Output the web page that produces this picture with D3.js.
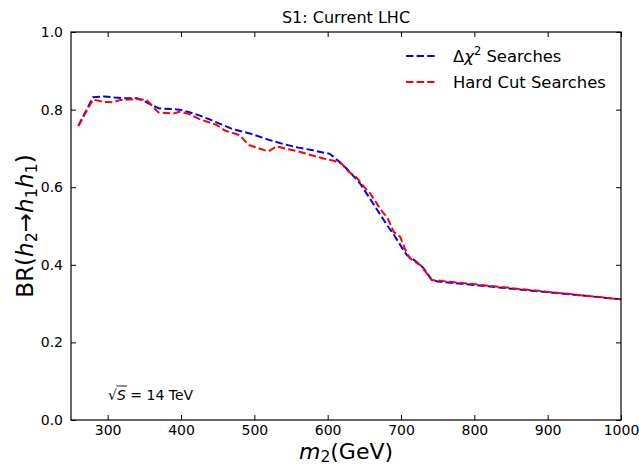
<!DOCTYPE html>
<html><head><meta charset="utf-8">
<script src="https://cdn.jsdelivr.net/npm/d3@7"></script>
<style>
body{margin:0;background:#fff;}
text{font-family:"DejaVu Sans",sans-serif;fill:#000;}
</style></head>
<body><svg id="c" width="639" height="465"></svg>
<script>
const xTicks = [300,400,500,600,700,800,900,1000];
const yTicks = [0.0,0.2,0.4,0.6,0.8,1.0];
const blueM = [260,280,295,310,325,340,350,360,370,390,400,410,425,440,455,470,495,520,540,560,580,595,603,617,630,644,662,680,690,700,708,721,731,742,750,1000];
const blueV = [0.758,0.832,0.834,0.831,0.829,0.829,0.822,0.812,0.803,0.801,0.799,0.794,0.785,0.774,0.762,0.750,0.738,0.722,0.711,0.702,0.695,0.689,0.686,0.664,0.640,0.610,0.558,0.505,0.478,0.448,0.425,0.408,0.391,0.361,0.357,0.311];
const redM = [260,280,294,308,317,340,353,369,390,399,410,426,449,460,480,492,519,530,560,594,608,619,628,640,650,658,668,676,681,690,699,706,712,727,742,1000];
const redV = [0.758,0.826,0.820,0.819,0.825,0.827,0.825,0.793,0.790,0.795,0.789,0.775,0.760,0.746,0.734,0.709,0.692,0.705,0.692,0.674,0.668,0.661,0.641,0.624,0.600,0.584,0.555,0.533,0.524,0.485,0.472,0.438,0.417,0.398,0.361,0.311];
const seriesNames = ["\u0394\u03c7\u00b2 Searches","Hard Cut Searches"];

const svg = d3.select("#c");
const L=71,R=621,T=32,B=420;
const x = d3.scaleLinear().domain([250,1000]).range([L,R]);
const y = d3.scaleLinear().domain([0,1]).range([B,T]);

const line = d3.line().x(d=>x(d[0])).y(d=>y(d[1]));
const blue = blueM.map((m,i)=>[m,blueV[i]]);
const red = redM.map((m,i)=>[m,redV[i]]);

svg.append("path").datum(blue).attr("d",line).attr("fill","none").attr("stroke","#0000ff").attr("stroke-width",2).attr("stroke-dasharray","7.4,3.2");
svg.append("path").datum(red).attr("d",line).attr("fill","none").attr("stroke","#ff0000").attr("stroke-width",2).attr("stroke-dasharray","7.4,3.2");

// axes
const fmtY = d3.format(".1f");
const axB = svg.append("g").attr("transform",`translate(0,${B})`).call(d3.axisBottom(x).tickValues(xTicks).tickFormat(d3.format("d")).tickSizeInner(-5).tickSizeOuter(0).tickPadding(5));
const axT = svg.append("g").attr("transform",`translate(0,${T})`).call(d3.axisTop(x).tickValues(xTicks).tickSizeInner(-5).tickSizeOuter(0).tickFormat(""));
const axL = svg.append("g").attr("transform",`translate(${L},0)`).call(d3.axisLeft(y).tickValues(yTicks).tickFormat(fmtY).tickSizeInner(-5).tickSizeOuter(0).tickPadding(8));
const axR = svg.append("g").attr("transform",`translate(${R},0)`).call(d3.axisRight(y).tickValues(yTicks).tickSizeInner(-5).tickSizeOuter(0).tickFormat(""));
[axB,axT,axL,axR].forEach(g=>{
  g.select(".domain").remove();
  g.selectAll("line").attr("stroke","#000").attr("stroke-width",1);
  g.selectAll("text").style("font-size","14px").style("font-family","DejaVu Sans").attr("fill","#000");
});
svg.append("rect").attr("x",L).attr("y",T).attr("width",R-L).attr("height",B-T).attr("fill","none").attr("stroke","#000").attr("stroke-width",1.2);

// title
svg.append("text").attr("x",(L+R)/2).attr("y",23).attr("text-anchor","middle").style("font-size","16px").text("S1: Current LHC");

// x label
const xl = svg.append("text").attr("x",(L+R)/2).attr("y",459).attr("text-anchor","middle").style("font-size","22px");
xl.append("tspan").style("font-style","italic").text("m");
xl.append("tspan").attr("dy",3).style("font-size","15.5px").text("2");
xl.append("tspan").attr("dy",-3).text("(GeV)");

// y label
const yl = svg.append("text").attr("transform",`translate(33,${(T+B)/2}) rotate(-90)`).attr("text-anchor","middle").style("font-size","23px");
yl.append("tspan").text("BR(");
yl.append("tspan").style("font-style","italic").text("h");
yl.append("tspan").attr("dy",4).style("font-size","16px").text("2");
yl.append("tspan").attr("dy",-4).text("\u2192");
yl.append("tspan").style("font-style","italic").text("h");
yl.append("tspan").attr("dy",4).style("font-size","16px").text("1");
yl.append("tspan").attr("dy",-4).style("font-style","italic").text("h");
yl.append("tspan").attr("dy",4).style("font-size","16px").text("1");
yl.append("tspan").attr("dy",-4).text(")");

// legend
const colors=["#0000ff","#ff0000"];
seriesNames.forEach((n,i)=>{
  const yy = 56 + i*26;
  svg.append("line").attr("x1",406).attr("x2",437).attr("y1",yy).attr("y2",yy).attr("stroke",colors[i]).attr("stroke-width",2).attr("stroke-dasharray","7.4,3.2");
  const t = svg.append("text").attr("x",453).attr("y",yy+6).style("font-size","16.4px");
  if(i===0){
    t.append("tspan").text("\u0394");
    t.append("tspan").style("font-style","italic").text("\u03c7");
    t.append("tspan").attr("dy",-7).style("font-size","11.5px").text("2");
    t.append("tspan").attr("dy",7).text(" Searches");
  } else t.text(n);
});

// annotation
const an = svg.append("g");
an.append("text").attr("x",108).attr("y",400).style("font-size","14px").text("\u221a");
an.append("line").attr("x1",116.5).attr("x2",127).attr("y1",386).attr("y2",386).attr("stroke","#000").attr("stroke-width",0.9);
const at = an.append("text").attr("x",117).attr("y",400).style("font-size","14px");
at.append("tspan").style("font-style","italic").text("S");
at.append("tspan").text(" = 14 TeV");
</script></body></html>
